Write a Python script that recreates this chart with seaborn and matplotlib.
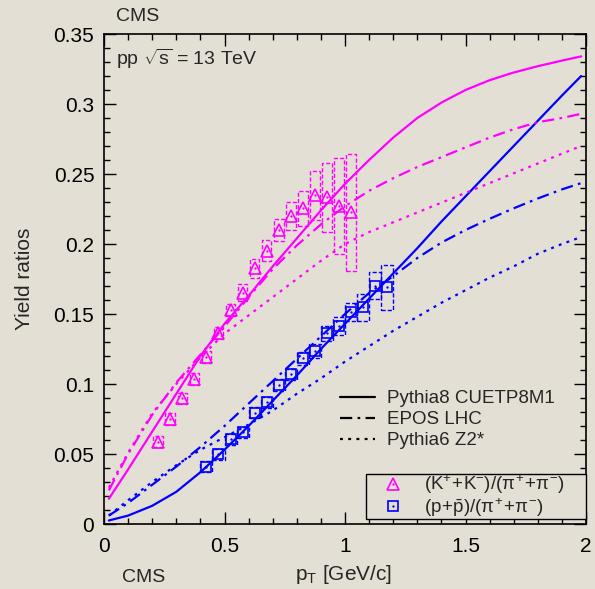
import numpy as np
import matplotlib
matplotlib.use("Agg")
import matplotlib.pyplot as plt
import seaborn as sns
from matplotlib.lines import Line2D
from matplotlib.ticker import MultipleLocator

# ---------------------------------------------------------------- data
# Measured K/pi ratio (bin centres, values, systematic half-widths)
pt_kaon = [0.225, 0.275, 0.325, 0.375, 0.425, 0.475, 0.525, 0.575, 0.625,
           0.675, 0.725, 0.775, 0.825, 0.875, 0.925, 0.975, 1.025]
ratio_kaon = [0.0588, 0.0750, 0.0898, 0.1036, 0.1195, 0.1364, 0.1529, 0.1652,
              0.1826, 0.1952, 0.2100, 0.2202, 0.2255, 0.2350, 0.2334, 0.2271,
              0.2226]
sys_kaon = [0.004, 0.004, 0.004, 0.004, 0.0042, 0.0045, 0.0045, 0.006, 0.007,
            0.0075, 0.008, 0.010, 0.0125, 0.0175, 0.0245, 0.034, 0.042]

# Measured p/pi ratio
pt_proton = [0.425, 0.475, 0.525, 0.575, 0.625, 0.675, 0.725, 0.775, 0.825,
             0.875, 0.925, 0.975, 1.025, 1.075, 1.125, 1.175]
ratio_proton = [0.0409, 0.0498, 0.0605, 0.0655, 0.0795, 0.0870, 0.0993, 0.1070,
                0.1184, 0.1236, 0.1362, 0.1416, 0.1512, 0.1548, 0.1702, 0.1690]
sys_proton = [0.004, 0.004, 0.004, 0.004, 0.004, 0.004, 0.004, 0.004, 0.0048,
              0.005, 0.0054, 0.0065, 0.0065, 0.0097, 0.0095, 0.016]

# Generator predictions
pt_model = [0.02, 0.1, 0.2, 0.3, 0.4, 0.5, 0.6, 0.7, 0.8, 0.9, 1.0, 1.1, 1.2,
            1.3, 1.4, 1.5, 1.6, 1.7, 1.8, 1.9, 1.98]
kaon_pythia8 = [0.018, 0.039, 0.066, 0.093, 0.120, 0.143, 0.163, 0.184, 0.204,
                0.224, 0.243, 0.260, 0.276, 0.290, 0.301, 0.310, 0.317, 0.3225,
                0.327, 0.331, 0.334]
kaon_epos = [0.024, 0.050, 0.078, 0.101, 0.121, 0.141, 0.162, 0.182, 0.199,
             0.214, 0.227, 0.238, 0.247, 0.255, 0.262, 0.269, 0.276, 0.282,
             0.287, 0.290, 0.293]
kaon_pythia6 = [0.026, 0.051, 0.079, 0.100, 0.119, 0.136, 0.149, 0.162, 0.175,
                0.188, 0.200, 0.2085, 0.2155, 0.2225, 0.2295, 0.2365, 0.2435,
                0.2505, 0.2575, 0.2645, 0.270]
proton_pythia8 = [0.0025, 0.006, 0.013, 0.023, 0.037, 0.053, 0.070, 0.088,
                  0.106, 0.125, 0.143, 0.161, 0.179, 0.197, 0.216, 0.234,
                  0.252, 0.270, 0.288, 0.306, 0.320]
proton_epos = [0.006, 0.015, 0.028, 0.041, 0.055, 0.070, 0.086, 0.102, 0.118,
               0.134, 0.150, 0.165, 0.177, 0.190, 0.201, 0.210, 0.218, 0.2255,
               0.2325, 0.239, 0.2435]
proton_pythia6 = [0.006, 0.017, 0.030, 0.042, 0.053, 0.062, 0.071, 0.081,
                  0.093, 0.104, 0.116, 0.127, 0.138, 0.148, 0.158, 0.167,
                  0.176, 0.184, 0.193, 0.200, 0.205]

model_names = ["Pythia8 CUETP8M1", "EPOS LHC", "Pythia6 Z2*"]
species_labels = [r"$(\mathrm{K}^{+}\!+\!\mathrm{K}^{-})/(\pi^{+}\!+\!\pi^{-})$",
                  r"$(\mathrm{p}\!+\!\bar{\mathrm{p}})/(\pi^{+}\!+\!\pi^{-})$"]

# ---------------------------------------------------------------- style
BG = "#e4dfd5"
MAGENTA = "#ff00ff"
BLUE = "#0000ff"
sns.set_style("ticks")
plt.rcParams.update({
    "font.family": ["Liberation Sans", "DejaVu Sans"],
    "mathtext.fontset": "custom",
    "mathtext.rm": "Liberation Sans",
    "mathtext.it": "Liberation Sans",
    "mathtext.bf": "Liberation Sans:bold",
    "mathtext.sf": "Liberation Sans",
    "axes.facecolor": BG,
    "figure.facecolor": BG,
    "savefig.facecolor": BG,
    "axes.edgecolor": "black",
    "axes.linewidth": 1.2,
})

SOLID = "-"
DASHDOT = (0, (5.5, 2.4, 1.2, 2.4))
DOTTED = (0, (1.3, 2.4))
LW = 1.6
FS = 15

fig = plt.figure(figsize=(5.95, 5.89), dpi=100)
ax = fig.add_axes([104 / 595, 1 - 524 / 589, 482 / 595, 490 / 589])

# ---------------------------------------------------------------- models
for yvals, col in [(kaon_pythia8, MAGENTA), (proton_pythia8, BLUE)]:
    sns.lineplot(x=pt_model, y=yvals, ax=ax, color=col, lw=LW,
                 linestyle=SOLID, estimator=None, sort=False)
for yvals, col in [(kaon_epos, MAGENTA), (proton_epos, BLUE)]:
    sns.lineplot(x=pt_model, y=yvals, ax=ax, color=col, lw=LW,
                 linestyle=DASHDOT, estimator=None, sort=False)
for yvals, col in [(kaon_pythia6, MAGENTA), (proton_pythia6, BLUE)]:
    sns.lineplot(x=pt_model, y=yvals, ax=ax, color=col, lw=LW,
                 linestyle=DOTTED, estimator=None, sort=False)

# ---------------------------------------------------------------- systematic boxes
ax.bar(pt_kaon, 2 * np.array(sys_kaon), bottom=np.array(ratio_kaon) - np.array(sys_kaon),
       width=0.04, fill=False, edgecolor=MAGENTA, linewidth=1.0,
       linestyle=(0, (3, 1.5)))
ax.bar(pt_proton, 2 * np.array(sys_proton),
       bottom=np.array(ratio_proton) - np.array(sys_proton),
       width=0.05, fill=False, edgecolor=BLUE, linewidth=1.0,
       linestyle=(0, (3, 1.5)))

# ---------------------------------------------------------------- data points
kt, = ax.plot(pt_kaon, ratio_kaon, ls="none", marker="^", ms=8.5, mfc="none",
              mec=MAGENTA, mew=1.2)
kd, = ax.plot(pt_kaon, ratio_kaon, ls="none", marker="o", ms=1.3, mfc=MAGENTA,
              mec=MAGENTA, mew=0.3)
ps, = ax.plot(pt_proton, ratio_proton, ls="none", marker="s", ms=7.5, mfc="none",
              mec=BLUE, mew=1.2)
pd, = ax.plot(pt_proton, ratio_proton, ls="none", marker="o", ms=1.3, mfc=BLUE,
              mec=BLUE, mew=0.3)

# ---------------------------------------------------------------- axes
ax.set_xlim(0, 2)
ax.set_ylim(0, 0.35)
ax.xaxis.set_minor_locator(MultipleLocator(0.1))
ax.yaxis.set_minor_locator(MultipleLocator(0.01))
ax.set_xticks([0, 0.5, 1, 1.5, 2])
ax.set_xticklabels(["0", "0.5", "1", "1.5", "2"])
ax.set_yticks([0, 0.05, 0.1, 0.15, 0.2, 0.25, 0.3, 0.35])
ax.set_yticklabels(["0", "0.05", "0.1", "0.15", "0.2", "0.25", "0.3", "0.35"])
ax.tick_params(which="both", direction="in", top=True, right=True,
               colors="black", labelsize=FS)
ax.tick_params(which="major", length=8.5, width=1.0)
ax.tick_params(axis="x", which="major", pad=9)
ax.tick_params(axis="y", which="major", pad=7)
ax.tick_params(which="minor", length=4.3, width=1.0)
for s in ax.spines.values():
    s.set_visible(True)

ax.set_xlabel(r"p$_{\mathrm{T}}$ [GeV/c]", fontsize=FS)
ax.xaxis.set_label_coords((392 - 104) / 482, -(575 - 524) / 490)
ax.xaxis.label.set_ha("right")
ax.xaxis.label.set_va("center")
ax.set_ylabel("Yield ratios", fontsize=FS)
ax.yaxis.set_label_coords((25 - 104) / 482, 0.5)
ax.yaxis.label.set_va("center")

# ---------------------------------------------------------------- texts
fig.text(116 / 595, 1 - 21 / 589, "CMS", fontsize=14, va="baseline", ha="left")
fig.text(122 / 595, 1 - 582 / 589, "CMS", fontsize=14, va="baseline", ha="left")
ax.text((116 - 104) / 482, (524 - 65) / 490, r"pp $\sqrt{\mathrm{s}}$ = 13 TeV",
        transform=ax.transAxes, fontsize=14, va="baseline", ha="left")

# ---------------------------------------------------------------- legends
model_handles = [Line2D([], [], color="black", lw=LW, linestyle=s)
                 for s in (SOLID, DASHDOT, DOTTED)]
leg1 = ax.legend(model_handles, model_names, loc="upper left",
                 bbox_to_anchor=((340 - 104) / 482, (524 - 390) / 490),
                 frameon=False, fontsize=13.5, handlelength=1.85,
                 handletextpad=0.65, labelspacing=0.21, borderpad=0,
                 borderaxespad=0)
ax.add_artist(leg1)

leg2 = ax.legend([(kt, kd), (ps, pd)], species_labels, loc="lower left",
                 bbox_to_anchor=((365.7 - 104) / 482, 5 / 490,
                                 (586 - 365.7) / 482, 45 / 490),
                 mode="expand", frameon=True, fancybox=False, fontsize=13.5,
                 handlelength=2.9, handletextpad=0.2, labelspacing=0.0,
                 borderpad=0.0, borderaxespad=0)
leg2.get_frame().set_edgecolor("black")
leg2.get_frame().set_linewidth(1.0)
leg2.get_frame().set_facecolor(BG)
leg2.get_frame().set_alpha(1)

fig.savefig("out.png", dpi=100, facecolor=BG)
